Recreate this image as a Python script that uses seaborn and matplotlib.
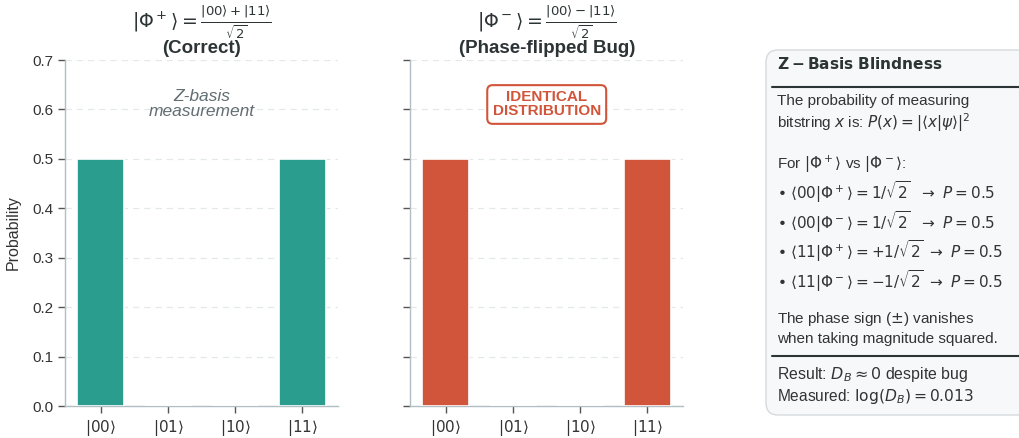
import matplotlib
matplotlib.use("Agg")
import matplotlib.pyplot as plt
import seaborn as sns
import pandas as pd
from matplotlib.patches import FancyBboxPatch
from matplotlib.lines import Line2D

states = [r"$|00\rangle$", r"$|01\rangle$", r"$|10\rangle$", r"$|11\rangle$"]
probs_plus = [0.5, 0.0, 0.0, 0.5]
probs_minus = [0.5, 0.0, 0.0, 0.5]
yticks = [0.0, 0.1, 0.2, 0.3, 0.4, 0.5, 0.6, 0.7]

TEAL = "#2a9d8f"
RED = "#d1553a"
DARK = "#2d3436"
GRAY = "#636e72"
SPINE = "#b2bec3"

sns.set_theme(style="white")
plt.rcParams["font.family"] = ["Liberation Sans", "DejaVu Sans"]
plt.rcParams["mathtext.fontset"] = "dejavusans"

fig = plt.figure(figsize=(10.2, 4.38), dpi=100)
ax1 = fig.add_axes([0.0637, 0.073, 0.268, 0.79])
ax2 = fig.add_axes([0.402, 0.073, 0.268, 0.79], sharey=ax1)

df_plus = pd.DataFrame({"state": states, "p": probs_plus})
df_minus = pd.DataFrame({"state": states, "p": probs_minus})

for ax, df, col in [(ax1, df_plus, TEAL), (ax2, df_minus, RED)]:
    sns.barplot(data=df, x="state", y="p", color=col, width=0.7,
                edgecolor="white", linewidth=1.2, saturation=1, ax=ax, zorder=3)
    ax.set_xlim(-0.535, 3.535)
    ax.set_ylim(0, 0.7)
    ax.set_yticks(yticks)
    ax.grid(axis="y", linestyle=(0, (5, 4)), color="#e4e8ea", linewidth=0.9, zorder=0)
    ax.set_axisbelow(True)
    for s in ["top", "right"]:
        ax.spines[s].set_visible(False)
    for s in ["left", "bottom"]:
        ax.spines[s].set_color(SPINE)
        ax.spines[s].set_linewidth(1.0)
    ax.tick_params(axis="both", which="both", length=5, width=1, color="#555555",
                   labelsize=11, labelcolor="#333333", left=True, bottom=True)
    ax.set_xlabel("")
    ax.set_ylabel("")

ax1.set_ylabel("Probability", fontsize=11.5, color="#333333", labelpad=8)
ax1.set_yticklabels([f"{v:.1f}" for v in yticks])
plt.setp(ax2.get_yticklabels(), visible=False)

# Titles
ax1.set_title("(Correct)", fontsize=13.5, fontweight="bold", color=DARK, pad=5)
ax2.set_title("(Phase-flipped Bug)", fontsize=13.5, fontweight="bold", color=DARK, pad=5)
ax1.text(0.5, 1.056, r"$|\Phi^+\rangle = \frac{|00\rangle + |11\rangle}{\sqrt{2}}$",
         transform=ax1.transAxes, ha="center", va="bottom", fontsize=13.6, color=DARK)
ax2.text(0.5, 1.056, r"$|\Phi^-\rangle = \frac{|00\rangle - |11\rangle}{\sqrt{2}}$",
         transform=ax2.transAxes, ha="center", va="bottom", fontsize=13.6, color=DARK)

# Annotations
ax1.text(1.5, 0.61, "Z-basis\nmeasurement", ha="center", va="center", fontsize=12.5,
         style="italic", color=GRAY, linespacing=1.0)
ax2.text(1.5, 0.61, "IDENTICAL\nDISTRIBUTION", ha="center", va="center", fontsize=11,
         fontweight="bold", color=RED, linespacing=1.0,
         bbox=dict(boxstyle="round,pad=0.35", facecolor="white", edgecolor=RED, linewidth=1.5))

# Right info panel
W, H = 1020.0, 438.0
def fx(px):
    return px / W
def fy(py):
    return 1 - py / H

box = FancyBboxPatch((fx(766), fy(415)), fx(1040) - fx(766), fy(50) - fy(415),
                     boxstyle="round,pad=0,rounding_size=0.012", transform=fig.transFigure,
                     facecolor="#f7f8f9", edgecolor="#d5dadd", linewidth=1.0, zorder=0,
                     mutation_aspect=W / H)
fig.patches.append(box)

x0 = fx(777)
fig.text(x0, fy(64), r"$\mathbf{Z-Basis\ Blindness}$", fontsize=11.1, color=DARK,
         ha="left", va="center")
fig.add_artist(Line2D([fx(772), fx(1020)], [fy(87), fy(87)], color=DARK, linewidth=1.5,
                      transform=fig.transFigure))

lines = [
    (101, "The probability of measuring", 11),
    (123, r"bitstring $x$ is: $P(x) = |\langle x|\psi\rangle|^2$", 11),
    (164, r"For $|\Phi^+\rangle$ vs $|\Phi^-\rangle$:", 11),
    (192, r"• $\langle 00|\Phi^+\rangle = 1/\sqrt{2}\ \ \rightarrow\ P = 0.5$", 11),
    (222, r"• $\langle 00|\Phi^-\rangle = 1/\sqrt{2}\ \ \rightarrow\ P = 0.5$", 11),
    (251, r"• $\langle 11|\Phi^+\rangle = +1/\sqrt{2}\ \rightarrow\ P = 0.5$", 11),
    (281, r"• $\langle 11|\Phi^-\rangle = -1/\sqrt{2}\ \rightarrow\ P = 0.5$", 11),
    (319, r"The phase sign ($\pm$) vanishes", 11),
    (339, "when taking magnitude squared.", 11),
    (375, r"Result: $D_B \approx 0$ despite bug", 11.4),
    (396, r"Measured: $\log(D_B) = 0.013$", 11.2),
]
for py, t, fs in lines:
    fig.text(x0, fy(py), t, fontsize=fs, color="#333333", ha="left", va="center")

fig.add_artist(Line2D([fx(772), fx(1020)], [fy(356), fy(356)], color=DARK, linewidth=1.5,
                      transform=fig.transFigure))

fig.savefig("out.png", dpi=100)
